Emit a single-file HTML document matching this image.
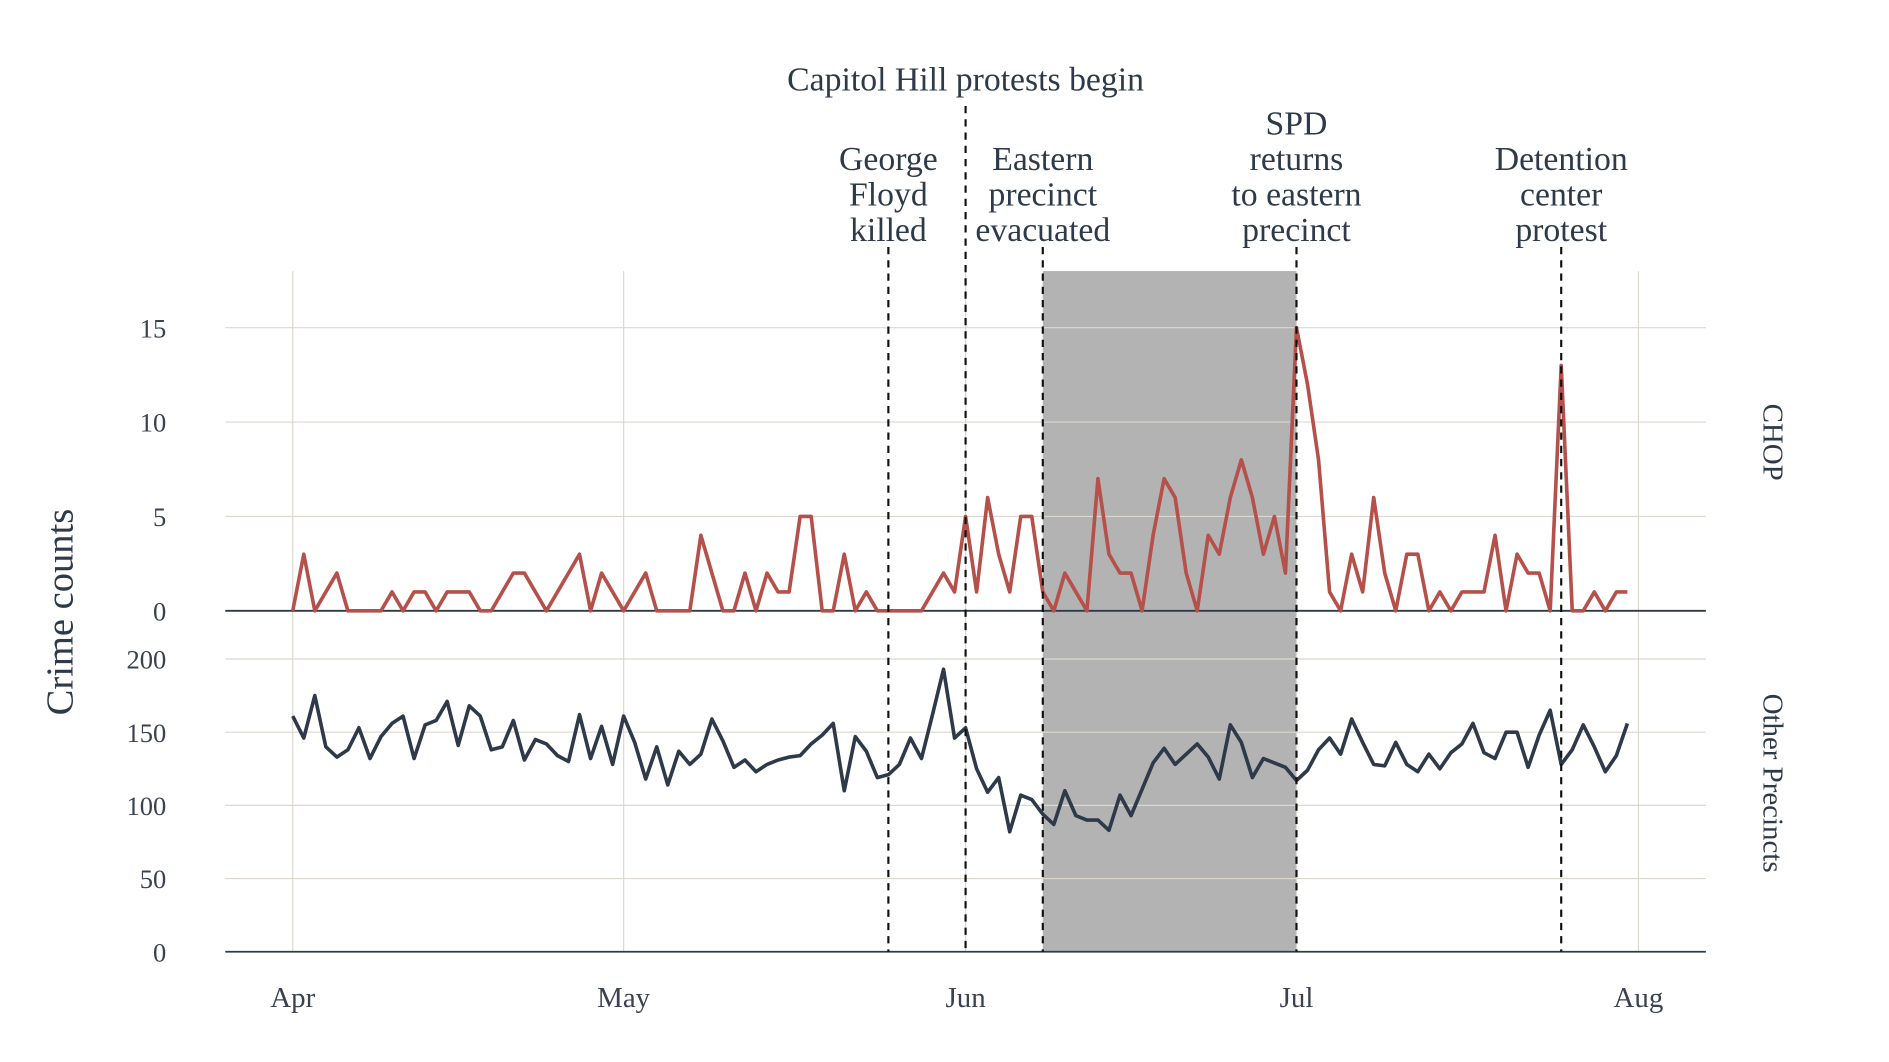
<!DOCTYPE html>
<html><head><meta charset="utf-8"><style>
html,body{margin:0;padding:0;background:#fff;}
svg{display:block;font-family:"Liberation Serif",serif;}
</style></head><body>
<svg id="chart" width="1889" height="1062" viewBox="0 0 1568 881.5" preserveAspectRatio="none" xmlns="http://www.w3.org/2000/svg"></svg>
<script>
const monthLabels = ["Apr","May","Jun","Jul","Aug"];
const monthDays = [0,30,61,91,122];
const chopTicks = [0,5,10,15];
const otherTicks = [0,50,100,150,200];
const chopValues = [0,3,0,1,2,0,0,0,0,1,0,1,1,0,1,1,1,0,0,1,2,2,1,0,1,2,3,0,2,1,0,1,2,0,0,0,0,4,2,0,0,2,0,2,1,1,5,5,0,0,3,0,1,0,0,0,0,0,1,2,1,5,1,6,3,1,5,5,1,0,2,1,0,7,3,2,2,0,4,7,6,2,0,4,3,6,8,6,3,5,2,15,12,8,1,0,3,1,6,2,0,3,3,0,1,0,1,1,1,4,0,3,2,2,0,13,0,0,1,0,1,1];
const otherValues = [161,146,175,140,133,138,153,132,147,156,161,132,155,158,171,141,168,161,138,140,158,131,145,142,134,130,162,132,154,128,161,143,118,140,114,137,128,135,159,144,126,131,123,128,131,133,134,142,148,156,110,147,137,119,121,128,146,132,162,193,146,153,125,109,119,82,107,104,94,87,110,93,90,90,83,107,93,111,129,139,128,135,142,133,118,155,143,119,132,129,126,117,124,138,146,135,159,143,128,127,143,128,123,135,125,136,142,156,136,132,150,150,126,148,165,128,138,155,140,123,134,156];
const eventDays = [54,61,68,91,115];
const eventLabels = [["George","Floyd","killed"],["Capitol Hill protests begin"],["Eastern","precinct","evacuated"],["SPD","returns","to eastern","precinct"],["Detention","center","protest"]];
const shadeDays = [68,91];

const NS="http://www.w3.org/2000/svg";
const svg=document.getElementById('chart');
const x=d=>243+d*(1117/122);
const yC=v=>507-v*(235/15);
const yO=v=>790-v*(243/200);
function el(t,a,txt){const e=document.createElementNS(NS,t);for(const k in a)e.setAttribute(k,a[k]);if(txt!==undefined)e.textContent=txt;svg.appendChild(e);return e;}

let r=el('rect',{x:x(shadeDays[0]),y:225,width:x(shadeDays[1])-x(shadeDays[0]),height:565,fill:'#b3b3b3'});


monthDays.forEach((d,i)=>{
  let g=el('line',{x1:x(d),x2:x(d),y1:225,y2:790,stroke:'#dcd8d0','stroke-width':1});
  
  
  let t=el('text',{x:x(d),y:836,'text-anchor':'middle','font-size':24,fill:'#3a4150'},monthLabels[i]);
  
  
});
chopTicks.forEach(v=>{
  let g=el('line',{x1:187,x2:1416,y1:yC(v),y2:yC(v),stroke:v===0?'#2e3a4a':'#dcd8d0','stroke-width':v===0?1.5:1});
  
  
  let t=el('text',{x:138,y:yC(v)+8,'text-anchor':'end','font-size':22,fill:'#3a4150'},v);
  
  
});
otherTicks.forEach(v=>{
  let g=el('line',{x1:187,x2:1416,y1:yO(v),y2:yO(v),stroke:v===0?'#2e3a4a':'#dcd8d0','stroke-width':v===0?1.5:1});
  
  
  let t=el('text',{x:138,y:yO(v)+8,'text-anchor':'end','font-size':22,fill:'#3a4150'},v);
  
  
});
let p1=el('polyline',{points:chopValues.map((v,i)=>x(i)+','+yC(v)).join(' '),fill:'none',stroke:'#b5504a','stroke-width':3,'stroke-linejoin':'round'});


let p2=el('polyline',{points:otherValues.map((v,i)=>x(i)+','+yO(v)).join(' '),fill:'none',stroke:'#2e3a4a','stroke-width':3,'stroke-linejoin':'round'});



eventDays.forEach((d,i)=>{
  const lines=eventLabels[i];
  const top=i===1?88:205;
  let l=el('line',{x1:x(d),x2:x(d),y1:top,y2:790,stroke:'#111','stroke-width':1.8,'stroke-dasharray':'6,5'});
  
  
  lines.forEach((s,j)=>{
    const yy=i===1?75:(200-(lines.length-1-j)*29.5);
    let t=el('text',{x:x(d),y:yy,'text-anchor':'middle','font-size':28,fill:'#2e3a4a'},s);
    
    
  });
});
let yt=el('text',{x:0,y:0,'font-size':32,fill:'#2e3a4a','text-anchor':'middle',transform:'translate(60,508) rotate(-90)'},'Crime counts');


let s1=el('text',{x:0,y:0,'font-size':24,fill:'#2e3a4a','text-anchor':'middle',transform:'translate(1464,367) rotate(90)'},'CHOP');


let s2=el('text',{x:0,y:0,'font-size':24,fill:'#2e3a4a','text-anchor':'middle',transform:'translate(1464,650) rotate(90)'},'Other Precincts');


</script>
</body></html>
